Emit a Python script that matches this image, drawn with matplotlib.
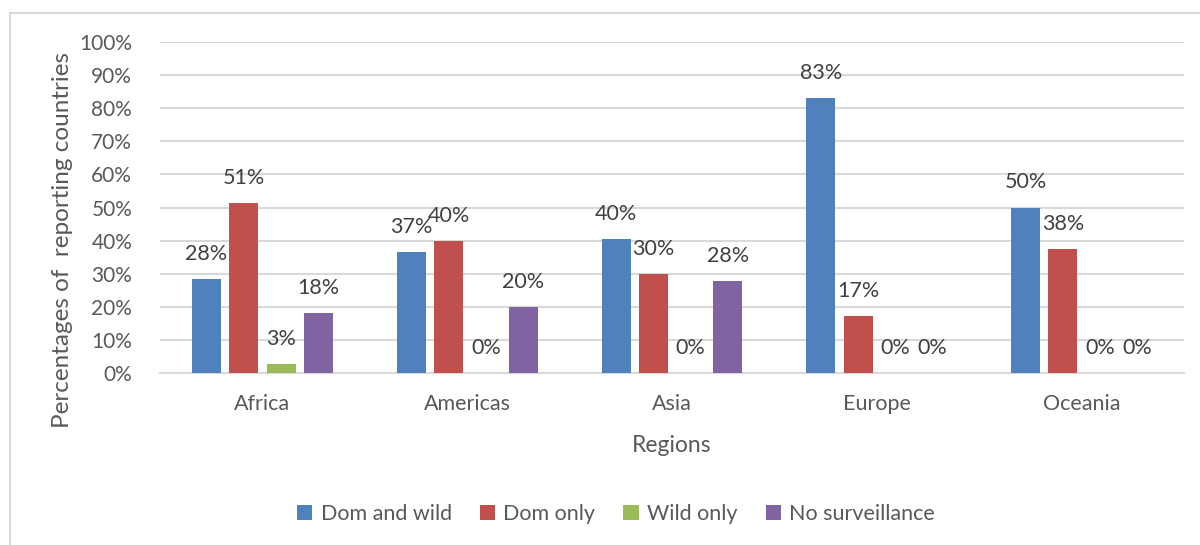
import numpy as np
import matplotlib.pyplot as plt
from matplotlib.patches import Rectangle

plt.rcParams['font.family'] = ['Lato', 'DejaVu Sans']

# Share of reporting countries (%) by region and surveillance type
regions = ["Africa", "Americas", "Asia", "Europe", "Oceania"]
series = ["Dom and wild", "Dom only", "Wild only", "No surveillance"]
dom_and_wild = [28.3, 36.7, 40.4, 83.0, 50.0]
dom_only = [51.3, 40.0, 29.8, 17.1, 37.5]
wild_only = [2.8, 0, 0, 0, 0]
no_surveillance = [18.0, 20.0, 27.7, 0, 0]

values = [dom_and_wild, dom_only, wild_only, no_surveillance]
colors = ["#4f81bd", "#c0504d", "#9bbb59", "#8064a2"]

fig = plt.figure(figsize=(12, 5.45), dpi=100)
ax = fig.add_axes([160/1200, 1 - 373/545, 1024/1200, 331/545])

x = np.arange(len(regions))
slot = 0.182
width = 0.1416

for i, (name, vals, col) in enumerate(zip(series, values, colors)):
    pos = x + (i - 1.5) * slot
    ax.bar(pos, vals, width, color=col, label=name, zorder=3)
    for px, v in zip(pos, vals):
        ax.annotate(f"{v:.0f}%", (px, v), xytext=(0, 18), textcoords="offset points",
                    ha="center", va="center", fontsize=15.5, color="#404040", zorder=4)

ax.set_xlim(-0.5, len(regions) - 0.5)
ax.set_ylim(0, 100)
ax.set_yticks(np.arange(0, 101, 10))
ax.set_yticklabels([f"{t}%" for t in range(0, 101, 10)])
ax.set_xticks(x)
ax.set_xticklabels(regions)
ax.tick_params(axis="both", length=0, labelsize=15, colors="#595959")
ax.tick_params(axis="x", labelsize=15.5, pad=15)
ax.tick_params(axis="y", pad=20)

ax.grid(axis="y", color="#d9d9d9", linewidth=1.5, zorder=0)
for s in ["top", "right", "left"]:
    ax.spines[s].set_visible(False)
ax.spines["bottom"].set_color("#d9d9d9")
ax.spines["bottom"].set_linewidth(1.5)

ax.set_xlabel("Regions", fontsize=16.5, color="#595959", labelpad=15)
fig.text(63/1200, 1 - 240/545, "Percentages of  reporting countries", rotation=90,
         ha="center", va="center", fontsize=17.5, color="#595959")

fig.legend(loc="center", bbox_to_anchor=(616/1200, 1 - 514/545), ncol=4, frameon=False,
           fontsize=15.5, handlelength=0.7, handleheight=0.7, handletextpad=0.4,
           columnspacing=1.3, labelcolor="#595959")

# chart frame
fig.add_artist(Rectangle((10/1200, -0.1), 1.2, 1.1 - 13/545, transform=fig.transFigure,
                         fill=False, edgecolor="#d9d9d9", linewidth=1.5))

fig.savefig("out.png", dpi=100)
